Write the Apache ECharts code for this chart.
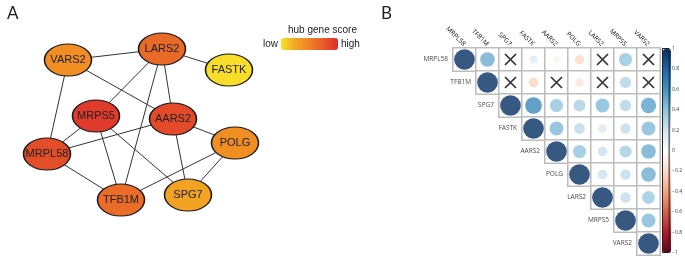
<!DOCTYPE html>
<html><head><meta charset="utf-8">
<script src="https://cdn.jsdelivr.net/npm/echarts@6/dist/echarts.min.js"></script>
<style>html,body{margin:0;padding:0;background:#fff}#c{width:685px;height:258px}</style>
</head><body><div id="c"></div><script>
// ---------- Panel B data ----------
const genes = ['MRPL58','TFB1M','SPG7','FASTK','AARS2','POLG','LARS2','MRPS5','VARS2'];
// upper triangle rows: row i holds correlations with columns i..8; null = not significant (X)
const corrRow0 = [1, 0.5, null, 0.15, -0.08, -0.2, null, 0.4, null];
const corrRow1 = [1, null, -0.22, null, -0.15, null, 0.3, null];
const corrRow2 = [1, 0.65, 0.4, 0.33, 0.45, 0.3, 0.55];
const corrRow3 = [1, 0.45, 0.27, 0.17, 0.25, 0.45];
const corrRow4 = [1, 0.4, 0.22, 0.35, 0.5];
const corrRow5 = [1, 0.22, 0.25, 0.5];
const corrRow6 = [1, 0.25, 0.38];
const corrRow7 = [1, 0.45];
const corrRow8 = [1];
const corrRows = [corrRow0,corrRow1,corrRow2,corrRow3,corrRow4,corrRow5,corrRow6,corrRow7,corrRow8];
const colorbarTickLabels = {'1':'1','0.8':'0.8','0.6':'0.6','0.4':'0.4','0.2':'0.2','0':'0','-0.2':'\u22120.2','-0.4':'\u22120.4','-0.6':'\u22120.6','-0.8':'\u22120.8','-1':'\u22121'};
const rdbu = ['#67001F','#B2182B','#D6604D','#F4A582','#FDDBC7','#FFFFFF','#D1E5F0','#92C5DE','#4393C3','#2166AC','#053061'];

// ---------- Panel A data ----------
const nodeNames = ['VARS2','LARS2','FASTK','MRPS5','AARS2','POLG','MRPL58','TFB1M','SPG7'];
const nodeX     = [68, 162, 229, 96, 173, 235, 47, 121, 188];
const nodeY     = [60, 49, 70, 116, 119, 143, 154, 200, 195];
const hubScore  = [0.42, 0.66, 0.03, 0.93, 0.84, 0.42, 0.82, 0.64, 0.28];
const edgeFrom  = ['VARS2','LARS2','VARS2','VARS2','LARS2','LARS2','LARS2','MRPS5','MRPS5','MRPS5','AARS2','AARS2','AARS2','MRPL58','TFB1M','POLG'];
const edgeTo    = ['LARS2','FASTK','MRPL58','AARS2','MRPS5','TFB1M','AARS2','MRPL58','TFB1M','SPG7','MRPL58','SPG7','POLG','TFB1M','POLG','SPG7'];
const hubColors = ['#f8e42c', '#f4a623', '#ee8325', '#e65a29', '#dd2e2a'];

// ---------- build ----------
const cell = 23;
const cells = [], circles = [], crosses = [], diag = [];
corrRows.forEach((row, r) => {
  row.forEach((v, k) => {
    const c = r + k;
    cells.push([c, r, 0]);
    if (v === null) crosses.push([c, r]);
    else circles.push([c, r, v]);
  });
  diag.push([r, r]);
});
const nodes = nodeNames.map((n, i) => ({name: n, value: [nodeX[i], nodeY[i]],
  itemStyle: {color: echarts.color.lerp(hubScore[i], hubColors)}}));
const links = edgeFrom.map((s, i) => ({source: s, target: edgeTo[i]}));

const lblFont = 'Open Sans';
const chart = echarts.init(document.getElementById('c'));
chart.setOption({
  animation: false,
  title: [
    {text: 'A', left: 2, top: 0, textStyle: {fontSize: 17, fontWeight: 'normal', color: '#222', fontFamily: 'Lato'}},
    {text: 'B', left: 376, top: 0, textStyle: {fontSize: 17, fontWeight: 'normal', color: '#222', fontFamily: 'Lato'}},
    {text: 'hub gene score', left: 283, top: 20, textStyle: {fontSize: 10, fontWeight: 'normal', color: '#222', fontFamily: 'Liberation Sans'}}
  ],
  grid: [
    {left: 0, top: 0, width: 300, height: 258, show: false},
    {left: 453, top: 48, width: 207, height: 207, show: false},
    {left: 662.5, top: 48.5, width: 8.5, height: 204, show: true, borderColor: '#222', borderWidth: 1, backgroundColor: 'transparent', z: 5}
  ],
  xAxis: [
    {gridIndex: 0, type: 'value', min: 0, max: 300, show: false},
    {gridIndex: 1, type: 'category', data: genes, position: 'top',
      axisLine: {show: false}, axisTick: {show: false},
      axisLabel: {rotate: 45, fontSize: 6.5, margin: 3, color: '#111', fontFamily: lblFont, interval: 0}},
    {gridIndex: 2, type: 'value', min: 0, max: 1, show: false}
  ],
  yAxis: [
    {gridIndex: 0, type: 'value', min: 0, max: 258, inverse: true, show: false},
    {gridIndex: 1, type: 'category', data: genes, inverse: true,
      axisLine: {show: false}, axisTick: {show: false}, axisLabel: {show: false}},
    {gridIndex: 2, type: 'value', min: -1, max: 1, interval: 0.2, position: 'right',
      axisLine: {show: false}, splitLine: {show: false},
      axisTick: {show: true, length: 2, lineStyle: {color: '#333'}},
      axisLabel: {fontSize: 5, margin: 3, color: '#333', fontFamily: lblFont,
        formatter: v => colorbarTickLabels[String(Math.round(v * 10) / 10)] || ''}}
  ],
  visualMap: [
    {type: 'continuous', seriesIndex: 5, dimension: 0, min: 0, max: 1, orient: 'horizontal',
      left: 263, top: 38, itemWidth: 12, itemHeight: 57, text: ['high', 'low'], textGap: 3,
      calculable: false, padding: 0, textStyle: {fontSize: 10, color: '#222', fontFamily: 'Liberation Sans'},
      inRange: {color: hubColors}},
    {type: 'continuous', seriesIndex: 2, dimension: 2, min: -1, max: 1, orient: 'vertical',
      left: 663, top: 49, itemWidth: 8, itemHeight: 204, text: null, showLabel: false,
      calculable: false, padding: 0, inRange: {color: rdbu}}
  ],
  series: [
    {type: 'graph', coordinateSystem: 'cartesian2d', xAxisIndex: 0, yAxisIndex: 0,
      symbol: 'circle', symbolSize: [47, 32], data: nodes, links: links,
      lineStyle: {color: '#333', width: 1, opacity: 1},
      itemStyle: {borderColor: '#1a1a1a', borderWidth: 1.3},
      label: {show: true, position: 'inside', fontSize: 11, color: '#222', fontFamily: 'Liberation Sans', formatter: '{b}'},
      silent: true},
    {type: 'heatmap', xAxisIndex: 1, yAxisIndex: 1, data: cells,
      itemStyle: {color: '#ffffff', borderColor: '#bdbdbd', borderWidth: 1.6}, silent: true},
    {type: 'scatter', xAxisIndex: 1, yAxisIndex: 1, data: circles,
      symbol: 'circle', symbolSize: v => 0.9 * cell * Math.sqrt(Math.abs(v[2])), silent: true, z: 3},
    {type: 'scatter', xAxisIndex: 1, yAxisIndex: 1, data: crosses,
      symbol: 'path://M0,0L10,10M10,0L0,10', symbolSize: 11,
      itemStyle: {color: 'rgba(0,0,0,0)', borderColor: '#000', borderWidth: 1.7}, silent: true, z: 3},
    {type: 'scatter', xAxisIndex: 1, yAxisIndex: 1, data: diag, symbolSize: cell,
      itemStyle: {color: 'rgba(0,0,0,0)'}, silent: true, z: 4,
      label: {show: true, position: 'left', distance: 5, fontSize: 6.5, color: '#111', fontFamily: lblFont,
        formatter: p => genes[p.data[1]]}},
    {type: 'scatter', xAxisIndex: 0, yAxisIndex: 0, data: [], silent: true}
  ]
});
</script></body></html>
